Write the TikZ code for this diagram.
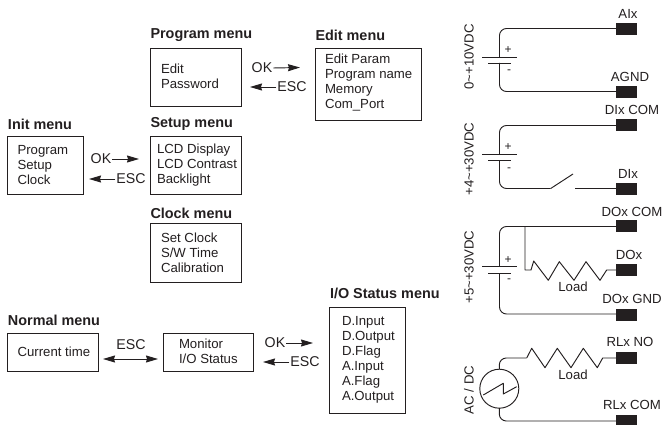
\documentclass[tikz,border=0pt]{standalone}
\usepackage{fontspec}
\setmainfont{Liberation Sans}
\usetikzlibrary{arrows.meta}
\definecolor{ink}{HTML}{231F20}
\tikzset{
  x=1pt,y=-1pt,
  every node/.style={inner sep=0pt,outer sep=0pt,text=ink},
  menubox/.style={draw=ink,line width=0.95pt,fill=white,minimum width=#1},
  menubox/.default=91pt,
  title/.style={anchor=west,font=\fontsize{14.4}{16}\selectfont\bfseries},
  body/.style={anchor=west,align=left,font=\fontsize{13.2}{15}\selectfont},
  lab/.style={font=\fontsize{13.2}{15}\selectfont},
  klab/.style={font=\fontsize{14.2}{15}\selectfont},
  flow/.style={draw=ink,line width=0.95pt,-{Stealth[length=12pt,width=7pt,inset=1pt]}},
  flowboth/.style={draw=ink,line width=0.95pt,{Stealth[length=12pt,width=7pt,inset=1pt]}-{Stealth[length=12pt,width=7pt,inset=1pt]}},
  wire/.style={draw=ink,line width=0.95pt,rounded corners=7pt,line join=round},
  plate/.style={draw=ink,line width=0.95pt},
  term/.style={fill=ink,minimum width=21pt,minimum height=12pt},
  vlab/.style={rotate=90,font=\fontsize{13.2}{15}\selectfont},
  sign/.style={font=\fontsize{12}{12}\selectfont},
}
\begin{document}
\begin{tikzpicture}
\useasboundingbox (0,0) rectangle (662,425);
% ---- menus
\node[menubox,minimum height=58pt] (prog) at (196,77) {};
\node[menubox=106pt,minimum height=72pt] (edit) at (368,84) {};
\node[menubox=75.5pt,minimum height=58pt] (init) at (45.7,165) {};
\node[menubox,minimum height=58pt] (setup) at (196,165.5) {};
\node[menubox,minimum height=58.5pt] (clock) at (196,253.2) {};
\node[menubox=90.5pt,minimum height=38pt] (normal) at (53.2,352) {};
\node[menubox=90pt,minimum height=38pt] (monitor) at (208,352) {};
\node[menubox=75.5pt,minimum height=106pt] (iostat) at (367.7,360) {};
% titles
\node[title] (tprog) at (150.5,35) {Program menu};
\node[title] (tedit) at (315.5,35) {Edit menu};
\node[title] (tinit) at (8,124) {Init menu};
\node[title] (tsetup) at (150.5,124) {Setup menu};
\node[title] (tclock) at (150.5,213) {Clock menu};
\node[title] (tnormal) at (8,320.5) {Normal menu};
\node[title] (tio) at (330,293.5) {I/O Status menu};
% bodies
\node[body] (bprog) at (161,76) {Edit\\Password};
\node[body] (bedit) at (325,83) {Edit Param\\Program name\\Memory\\Com\_Port};
\node[body] (binit) at (17.5,165.5) {Program\\Setup\\Clock};
\node[body] (bsetup) at (157,165.5) {LCD Display\\LCD Contrast\\Backlight};
\node[body] (bclock) at (161,253) {Set Clock\\S/W Time\\Calibration};
\node[body] (bnormal) at (17.5,352) {Current time};
\node[body] (bmon) at (179,351.5) {Monitor\\I/O Status};
\node[body] (bio) at (342,359.5) {D.Input\\D.Output\\D.Flag\\A.Input\\A.Flag\\A.Output};
% key labels and arrows
\node[klab] (ok1) at (262,68) {OK};
\node[klab] (esc1) at (292,87) {ESC};
\node[klab] (ok2) at (101,159) {OK};
\node[klab] (esc2) at (131,179) {ESC};
\node[klab] (esc3) at (131,345) {ESC};
\node[klab] (ok4) at (275,343) {OK};
\node[klab] (esc4) at (305,362) {ESC};
\coordinate (a1) at (300,67.5); \draw[flow] (ok1.east)++(1,0) -- (a1);
\coordinate (a2) at (250,87); \draw[flow] (esc1.west)++(-1,0) -- (a2);
\coordinate (a3) at (139,159); \draw[flow] (ok2.east)++(1,0) -- (a3);
\coordinate (a4) at (89,179); \draw[flow] (esc2.west)++(-1,0) -- (a4);
\coordinate (a5) at (313,343); \draw[flow] (ok4.east)++(1,0) -- (a5);
\coordinate (a6) at (263,362); \draw[flow] (esc4.west)++(-1,0) -- (a6);
\coordinate (a7) at (103,359); \coordinate (a8) at (158,359);
\draw[flowboth] (a7) -- (a8);
% ---- terminals
\node[term] (tAI) at (626.5,29) {};
\node[term] (tAG) at (626.5,92) {};
\node[term] (tDC) at (626.5,125) {};
\node[term] (tDI) at (626.5,189) {};
\node[term] (tOC) at (626.5,226.5) {};
\node[term] (tOX) at (626.5,270) {};
\node[term] (tOG) at (626.5,315) {};
\node[term] (tRN) at (626.5,358) {};
\node[term,minimum height=10pt,anchor=north] (tRC) at (626.5,415) {};
% terminal labels
\node[lab] (lAI) at (628,14) {AIx};
\node[lab] (lAG) at (630,77) {AGND};
\node[lab] (lDC) at (632,110) {DIx COM};
\node[lab] (lDI) at (628,174) {DIx};
\node[lab] (lOC) at (632,212) {DOx COM};
\node[lab] (lOX) at (629,255) {DOx};
\node[lab] (lOG) at (632,299) {DOx GND};
\node[lab] (lRN) at (630,342) {RLx NO};
\node[lab] (lRC) at (632,405) {RLx COM};
\node[lab] (load1) at (573,287) {Load};
\node[lab] (load2) at (573,375) {Load};
% rotated labels
\node[vlab] (v1) at (469,57) {0\textasciitilde+10VDC};
\node[vlab] (v2) at (469,159) {+4\textasciitilde+30VDC};
\node[vlab] (v3) at (469,267) {+5\textasciitilde+30VDC};
\node[vlab] (v4) at (469,390) {AC / DC};
% signs
\node[sign] (p1) at (508,50) {+};
\node[sign] (m1) at (509,72) {-};
\node[sign] (p2) at (508,147) {+};
\node[sign] (m2) at (509,170) {-};
\node[sign] (p3) at (508,260) {+};
\node[sign] (m3) at (509,281) {-};
% circuit 1
\coordinate (c1a) at (482,57); \coordinate (c1b) at (517,57);
\coordinate (c1c) at (488,63); \coordinate (c1d) at (511,63);
\draw[plate] (c1a) -- (c1b); \draw[plate] (c1c) -- (c1d);
\draw[wire] (499.5,57) -- (499.5,28.5) -- (tAI.west |- 0,28.5);
\draw[wire] (499.5,63) -- (499.5,91.5) -- (tAG.west |- 0,91.5);
% circuit 2
\coordinate (c2a) at (482,154); \coordinate (c2b) at (517,154);
\coordinate (c2c) at (488,160.5); \coordinate (c2d) at (511,160.5);
\draw[plate] (c2a) -- (c2b); \draw[plate] (c2c) -- (c2d);
\draw[wire] (499.5,154) -- (499.5,125.5) -- (tDC.west |- 0,125.5);
\coordinate (sw1) at (550.7,188.5); \coordinate (sw2) at (573,174); \coordinate (sw3) at (575,188.5);
\draw[wire] (499.5,160.5) -- (499.5,188.5) -- (sw1);
\draw[plate,line join=round] (sw1) -- (sw2);
\draw[plate] (sw3) -- (tDI.west |- sw3);
% circuit 3
\coordinate (c3a) at (482,266.7); \coordinate (c3b) at (517,266.7);
\coordinate (c3c) at (488,273); \coordinate (c3d) at (511,273);
\draw[plate] (c3a) -- (c3b); \draw[plate] (c3c) -- (c3d);
\draw[wire] (499.5,266.7) -- (499.5,226.5) -- (tOC.west |- 0,226.5);
\draw[wire] (499.5,273) -- (499.5,314) -- (tOG.west |- 0,314);
\draw[plate,line join=round] (525,226.5) -- (525,270) -- (531,270) -- (533.7,261) -- (548.3,280.3) -- (559.3,261.7) -- (574,280.3) -- (586,261.7) -- (600,280.3) -- (606.7,270) -- (tOX.west);
% circuit 4
\node[draw=ink,line width=0.95pt,circle,minimum size=39pt] (ac) at (499.3,388.7) {};
\draw[plate,line join=round] (483.3,395) -- (503.3,383.3) -- (503.3,394) -- (516.7,386.7);
\draw[wire] (ac.north) -- (499.3,358) -- (526.7,358);
\draw[plate,line join=round] (526.7,358) -- (531.7,348.3) -- (545,367.7) -- (557.3,348.3) -- (571,367.7) -- (583.3,348.3) -- (597.3,367.7) -- (602.7,358) -- (tRN.west);
\draw[wire] (ac.south) -- (499.3,421) -- (tRC.west |- 0,421);
\end{tikzpicture}
\end{document}
